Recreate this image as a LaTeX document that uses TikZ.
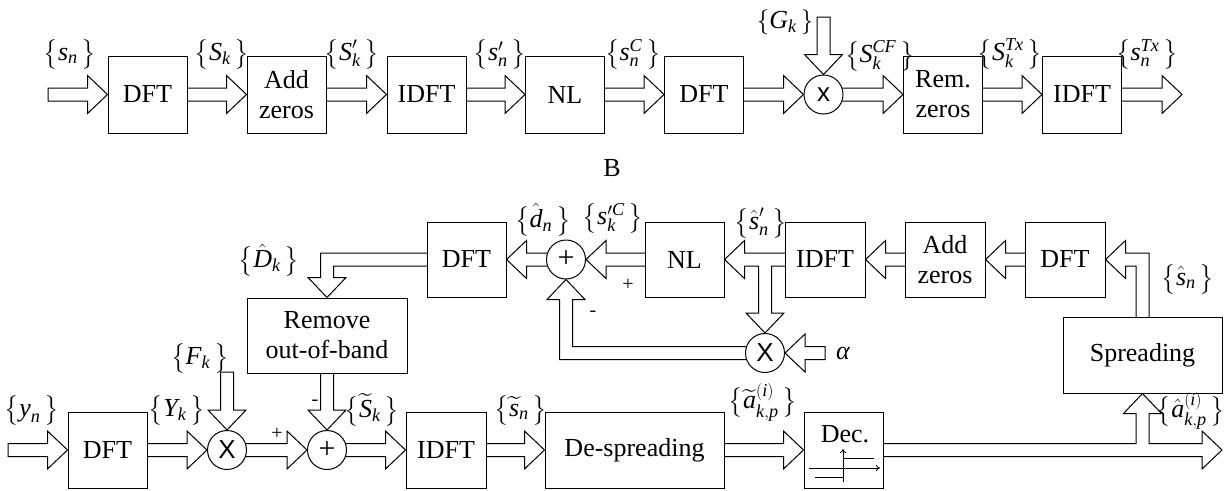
\documentclass[tikz,border=0pt]{standalone}
\usepackage{amsmath}
\usepackage{fontspec}
\setmainfont{Liberation Serif}
\newfontfamily\arialfam{Liberation Sans}
\usetikzlibrary{calc,arrows.meta}
\pgfdeclarelayer{background}
\pgfsetlayers{background,main}
\newcommand\itx[1]{\text{\itshape #1}}
\newcommand\lbl[1]{$\bigl\{#1\,\bigr\}$}
\newcommand\slbl[1]{$\{#1\,\}$}
\newcommand\rarr[2]{\draw[barrow] let \p1=#1, \p2=#2 in
  (\x1,\y1+6.5pt) -- (\x2-20pt,\y1+6.5pt) -- (\x2-20pt,\y1+19pt) -- (\x2,\y1)
  -- (\x2-20pt,\y1-19pt) -- (\x2-20pt,\y1-6.5pt) -- (\x1,\y1-6.5pt) -- cycle;}
\newcommand\larr[2]{\draw[barrow] let \p1=#1, \p2=#2 in
  (\x1,\y1+6.5pt) -- (\x2+20pt,\y1+6.5pt) -- (\x2+20pt,\y1+19pt) -- (\x2,\y1)
  -- (\x2+20pt,\y1-19pt) -- (\x2+20pt,\y1-6.5pt) -- (\x1,\y1-6.5pt) -- cycle;}
\newcommand\darr[2]{\draw[barrow] let \p1=#1, \p2=#2 in
  (\x2-6.5pt,\y1) -- (\x2-6.5pt,\y2+20pt) -- (\x2-19pt,\y2+20pt) -- (\x2,\y2)
  -- (\x2+19pt,\y2+20pt) -- (\x2+6.5pt,\y2+20pt) -- (\x2+6.5pt,\y1) -- cycle;}
\begin{document}
\begin{tikzpicture}[x=1pt,y=-1pt,
  mainfont/.style={font=\fontsize{26}{30}\selectfont},
  box/.style={draw, fill=white, line width=1pt, inner sep=0pt, align=center,
    minimum width=79pt, minimum height=77pt, mainfont},
  circ/.style={draw, fill=white, circle, line width=1pt, inner sep=0pt,
    minimum size=39pt, font=\arialfam\fontsize{26}{30}\selectfont},
  pcirc/.style={circ, font=\fontsize{30}{30}\selectfont},
  barrow/.style={draw, fill=white, line width=1pt, line join=miter},
  lab/.style={inner sep=0pt, mainfont},
  sgn/.style={inner sep=0pt, font=\fontsize{20}{20}\selectfont},
  thin arrow/.style={line width=0.8pt, -{To[length=4pt,width=6pt]}}]
\useasboundingbox (0,0) rectangle (1225,490);

% ---------- top row ----------
\node[box] (t_dft) at (147.5,94.5) {DFT};
\node[box] (t_add) at (286.5,94.5) {Add\\zeros};
\node[box] (t_idft) at (426.5,94.5) {IDFT};
\node[box] (t_nl) at (565,94.5) {NL};
\node[box] (t_dft2) at (704,94.5) {DFT};
\node[circ] (t_mul) at (823.5,94.5) {x};
\node[box] (t_rem) at (943,94.5) {Rem.\\zeros};
\node[box] (t_idft2) at (1082,94.5) {IDFT};
\coordinate (t_in) at (48,94.5);
\coordinate (t_out) at (1182,94.5);
\coordinate (g_top) at (823.5,17);

\node[lab] (l_sn) at (70,54) {\lbl{\itx{s}_{\itx{n}}}};
\node[lab] (l_Sk) at (222,54) {\lbl{\itx{S}_{\itx{k}}}};
\node[lab] (l_Spk) at (352,54) {\lbl{\itx{S}'_{\itx{k}}}};
\node[lab] (l_spn) at (500,54) {\lbl{\itx{s}'_{\itx{n}}}};
\node[lab] (l_sC) at (633,54) {\lbl{\itx{s}_{\itx{n}}^{\itx{C}}}};
\node[lab] (l_G) at (785,22) {\slbl{\itx{G}_{\itx{k}}}};
\node[lab] (l_SCF) at (880,56) {\lbl{\itx{S}_{\itx{k}}^{\itx{CF}}}};
\node[lab] (l_STx) at (1010,54) {\lbl{\itx{S}_{\itx{k}}^{\itx{Tx}}}};
\node[lab] (l_sTx) at (1147,54) {\lbl{\itx{s}_{\itx{n}}^{\itx{Tx}}}};

\node[lab] (l_B) at (612,168) {B};

% ---------- feedback row ----------
\node[box, minimum height=75pt] (f_dft) at (466.5,259.5) {DFT};
\node[pcirc] (f_add) at (566,259.5) {+};
\node[box, minimum height=75pt] (f_nl) at (684.5,259.5) {NL};
\node[box, minimum height=75pt, minimum width=80pt] (f_idft) at (825,259.5) {IDFT};
\node[box, minimum height=75pt, minimum width=80pt] (f_addz) at (945,259.5) {Add\\zeros};
\node[box, minimum height=75pt, minimum width=80pt] (f_dft2) at (1065,259.5) {DFT};
\node[circ] (f_mul) at (765,353) {X};
\coordinate (a_in) at (825,353);
\node[box, minimum width=160pt, minimum height=75pt] (rem) at (327,335.5) {Remove\\out-of-band};
\node[box, minimum width=159pt, minimum height=76pt] (spread) at (1142.5,355) {Spreading};

\node[lab] (l_dn) at (543,220) {\lbl{\hat{\itx{d}}_{\itx{n}}}};
\node[lab] (l_spkC) at (613,218) {\lbl{\itx{s}^{\prime\itx{C}}_{\itx{k}}}};
\node[lab] (l_shpn) at (761,223) {\lbl{\hat{\itx{s}}'_{\itx{n}}}};
\node[lab] (l_Dk) at (269,260) {\lbl{\hat{\itx{D}}_{\itx{k}}}};
\node[lab] (l_shn) at (1188,279) {\lbl{\hat{\itx{s}}_{\itx{n}}}};
\node[sgn] (s_p1) at (628,285) {+};
\node[sgn] (s_m1) at (593,314) {-};
\node[lab] (l_al) at (843,353) {\itshape α};

% ---------- bottom row ----------
\node[box, minimum height=76pt] (b_dft) at (107.5,450) {DFT};
\node[circ] (b_mul) at (227,450) {X};
\node[pcirc] (b_add) at (327,450) {+};
\node[box, minimum height=76pt, minimum width=80pt] (b_idft) at (446,450) {IDFT};
\node[box, minimum height=76pt, minimum width=179pt] (b_desp) at (634.5,450) {De-spreading};
\node[box, minimum height=76pt] (b_dec) at (843.5,450) {};
\node[lab] (l_dec) at (845,434) {Dec.};
\coordinate (b_in) at (8,450);
\coordinate (b_out) at (1222,450);
\coordinate (f_top) at (227,372);

\node[lab] (l_yn) at (32,410) {\lbl{\itx{y}_{\itx{n}}}};
\node[lab] (l_Yk) at (177,410) {\lbl{\itx{Y}_{\itx{k}}}};
\node[lab] (l_Fk) at (200,358) {\lbl{\itx{F}_{\itx{k}}}};
\node[sgn] (s_p2) at (277,434) {+};
\node[sgn] (s_m2) at (315,403) {-};
\node[lab] (l_Stk) at (372,410) {\lbl{\widetilde{\itx{S}}_{\itx{k}}}};
\node[lab] (l_stn) at (521,410) {\lbl{\widetilde{\itx{s}}_{\itx{n}}}};
\node[lab] (l_at) at (763,402) {\lbl{\widetilde{\itx{a}}^{(\itx{i})}_{\itx{k},\itx{p}}}};
\node[lab] (l_ah) at (1191,411) {\lbl{\hat{\itx{a}}^{(\itx{i})}_{\itx{k},\itx{p}}}};

% decision symbol inside Dec.
\coordinate (d_h1) at (809,468);
\coordinate (d_h2) at (880,468);
\coordinate (d_v1) at (843,482);
\coordinate (d_v2) at (843,449);
\coordinate (d_l1) at (815,477);
\coordinate (d_l2) at (843,477);
\coordinate (d_u1) at (843,458);
\coordinate (d_u2) at (874,458);
\draw[thin arrow] (d_h1) -- (d_h2);
\draw[thin arrow] (d_v1) -- (d_v2);
\draw[line width=0.8pt] (d_l1) -- (d_l2);
\draw[line width=0.8pt] (d_u1) -- (d_u2);

% ---------- block arrows ----------
\begin{pgfonlayer}{background}
% top row
\rarr{(t_in)}{(t_dft.west)}
\rarr{(t_dft.center)}{(t_add.west)}
\rarr{(t_add.center)}{(t_idft.west)}
\rarr{(t_idft.center)}{(t_nl.west)}
\rarr{(t_nl.center)}{(t_dft2.west)}
\rarr{(t_dft2.center)}{(t_mul.west)}
\darr{(g_top)}{(t_mul.north)}
\rarr{(t_mul.center)}{(t_rem.west)}
\rarr{(t_rem.center)}{(t_idft2.west)}
\rarr{(t_idft2.center)}{(t_out)}
% feedback row
\larr{(f_dft2.center)}{(f_addz.east)}
\larr{(f_addz.center)}{(f_idft.east)}
\larr{(f_nl.center)}{(f_add.east)}
\larr{(f_add.center)}{(f_dft.east)}
\larr{(a_in)}{(f_mul.east)}
% IDFT -> NL with branch to X
\draw[barrow] let \p1=(f_idft.center), \p2=(f_nl.east), \p3=(f_mul.north) in
  (\x1,\y1+6.5pt) -- (\x2+20pt,\y1+6.5pt) -- (\x2+20pt,\y1+19pt) -- (\x2,\y1)
  -- (\x2+20pt,\y1-19pt) -- (\x2+20pt,\y1-6.5pt) -- (\x3-6.5pt,\y1-6.5pt)
  -- (\x3-6.5pt,\y3+20pt) -- (\x3-19pt,\y3+20pt) -- (\x3,\y3) -- (\x3+19pt,\y3+20pt)
  -- (\x3+6.5pt,\y3+20pt) -- (\x3+6.5pt,\y1-6.5pt) -- (\x1,\y1-6.5pt) -- cycle;
% X -> + (up)
\draw[barrow] let \p1=(f_mul.center), \p2=(f_add.south) in
  (\x1,\y1+6.5pt) -- (\x2+6.5pt,\y1+6.5pt) -- (\x2+6.5pt,\y2-20pt) -- (\x2+19pt,\y2-20pt)
  -- (\x2,\y2) -- (\x2-19pt,\y2-20pt) -- (\x2-6.5pt,\y2-20pt) -- (\x2-6.5pt,\y1-6.5pt)
  -- (\x1,\y1-6.5pt) -- cycle;
% DFT -> Remove out-of-band
\draw[barrow] let \p1=(f_dft.center), \p2=(rem.north) in
  (\x1,\y1+6.5pt) -- (\x2-6.5pt,\y1+6.5pt) -- (\x2-6.5pt,\y2+20pt) -- (\x2-19pt,\y2+20pt)
  -- (\x2,\y2) -- (\x2+19pt,\y2+20pt) -- (\x2+6.5pt,\y2+20pt) -- (\x2+6.5pt,\y1-6.5pt)
  -- (\x1,\y1-6.5pt) -- cycle;
% Spreading -> DFT
\draw[barrow] let \p1=(spread.center), \p2=(f_dft2.east) in
  (\x1-6.5pt,\y1) -- (\x1-6.5pt,\y2-6.5pt) -- (\x2+20pt,\y2-6.5pt) -- (\x2+20pt,\y2-19pt)
  -- (\x2,\y2) -- (\x2+20pt,\y2+19pt) -- (\x2+20pt,\y2+6.5pt) -- (\x1+6.5pt,\y2+6.5pt)
  -- (\x1+6.5pt,\y1) -- cycle;
% bottom row
\rarr{(b_in)}{(b_dft.west)}
\rarr{(b_dft.center)}{(b_mul.west)}
\darr{(f_top)}{(b_mul.north)}
\rarr{(b_mul.center)}{(b_add.west)}
\darr{(rem.center)}{(b_add.north)}
\rarr{(b_add.center)}{(b_idft.west)}
\rarr{(b_idft.center)}{(b_desp.west)}
\rarr{(b_desp.center)}{(b_dec.west)}
% Dec -> output with branch to Spreading
\draw[barrow] let \p1=(b_dec.center), \p2=(b_out), \p3=(spread.south) in
  (\x1,\y1+6.5pt) -- (\x3-6.5pt,\y1+6.5pt) -- (\x3-6.5pt,\y3-20pt) -- (\x3-19pt,\y3-20pt)
  -- (\x3,\y3) -- (\x3+19pt,\y3-20pt) -- (\x3+6.5pt,\y3-20pt) -- (\x3+6.5pt,\y1+6.5pt)
  -- (\x2-20pt,\y1+6.5pt) -- (\x2-20pt,\y1+19pt) -- (\x2,\y1) -- (\x2-20pt,\y1-19pt)
  -- (\x2-20pt,\y1-6.5pt) -- (\x1,\y1-6.5pt) -- cycle;
\end{pgfonlayer}
\end{tikzpicture}
\end{document}
